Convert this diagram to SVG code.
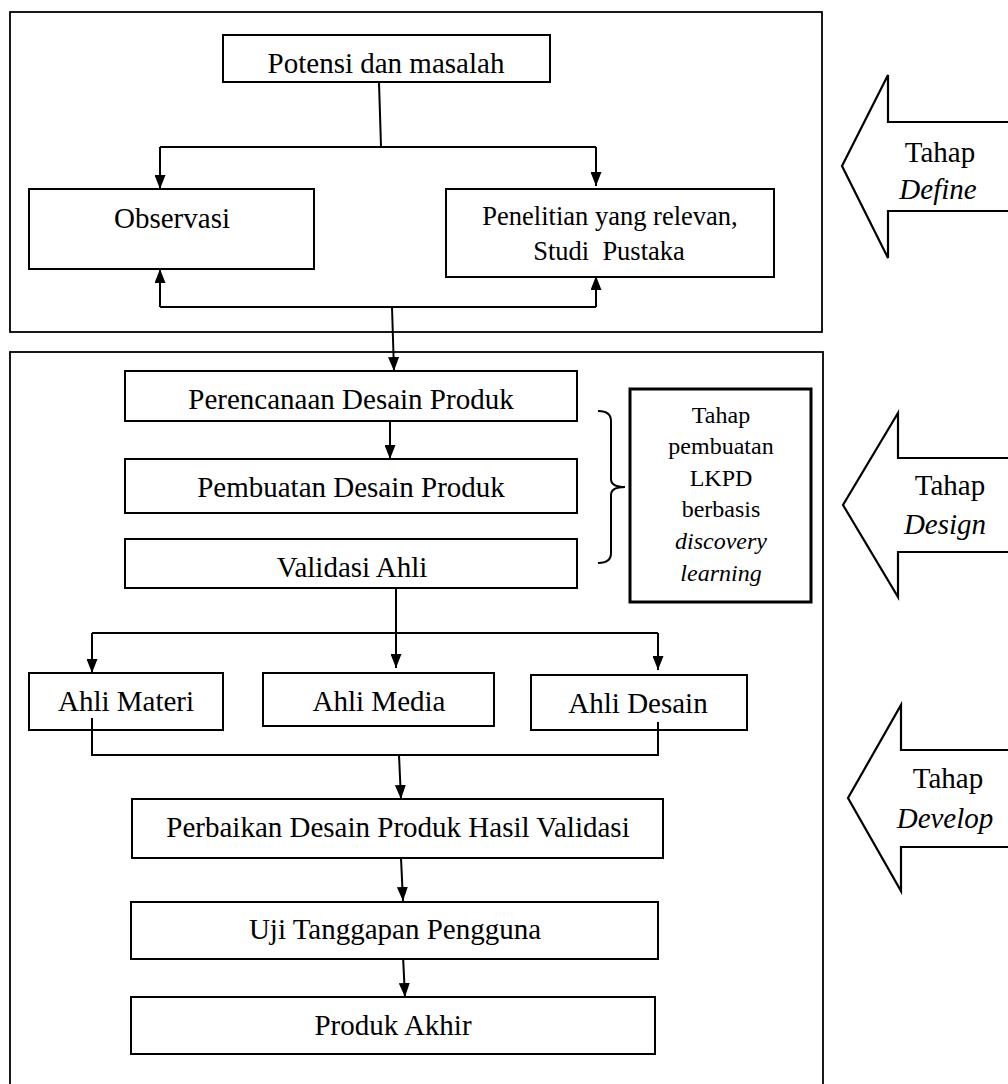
<svg xmlns="http://www.w3.org/2000/svg" width="1008" height="1084" viewBox="0 0 1008 1084">
<style>
.box{fill:#fff;stroke:#000;stroke-width:2}
.frame{fill:none;stroke:#000;stroke-width:1.8}
.t{font-family:"Liberation Serif","Times New Roman",serif;font-size:29px;fill:#000;text-anchor:middle}
.s{font-size:26.5px}
.r{font-size:24px}
.i{font-style:italic}
.ln{fill:none;stroke:#000;stroke-width:2}
.arr{fill:#fff;stroke:#000;stroke-width:2.2;stroke-linejoin:miter}
</style>
<defs>
<marker id="ah" viewBox="0 0 14 11" refX="14" refY="5.5" markerWidth="14" markerHeight="11" orient="auto" markerUnits="userSpaceOnUse">
<path d="M0,0 L14,5.5 L0,11 z" fill="#000"/>
</marker>
</defs>
<g id="frames">
<rect class="frame" x="10" y="12" width="812" height="320"/>
<rect class="frame" x="10" y="352" width="813" height="760"/>
</g>
<g id="connectors">
<path class="ln" d="M379,82 L381,147"/>
<path class="ln" d="M160,147 L596,147"/>
<path class="ln" d="M160,147 L160,189" marker-end="url(#ah)"/>
<path class="ln" d="M596,147 L596,186" marker-end="url(#ah)"/>
<path class="ln" d="M160,307 L596,307"/>
<path class="ln" d="M160,307 L160,269" marker-end="url(#ah)"/>
<path class="ln" d="M596,307 L596,276" marker-end="url(#ah)"/>
<path class="ln" d="M392,307 L394,371" marker-end="url(#ah)"/>
<path class="ln" d="M390,421 L390,459" marker-end="url(#ah)"/>
<path class="ln" d="M396,588 L396,668" marker-end="url(#ah)"/>
<path class="ln" d="M92,633 L658,633"/>
<path class="ln" d="M92,633 L92,673" marker-end="url(#ah)"/>
<path class="ln" d="M658,633 L658,670" marker-end="url(#ah)"/>
<path class="ln" d="M92,718 L92,755 L658,755 L658,722"/>
<path class="ln" d="M399,755 L401,799" marker-end="url(#ah)"/>
<path class="ln" d="M401,858 L403,901" marker-end="url(#ah)"/>
<path class="ln" d="M403,956 L405,997" marker-end="url(#ah)"/>
<path class="ln" d="M598,411 Q611,411 611,421 L611,479 Q611,487 625,487 Q611,487 611,495 L611,553 Q611,563 598,563"/>
</g>
<g id="potensi">
<rect class="box" x="223" y="35" width="327" height="47"/>
<text class="t" x="386" y="73">Potensi dan masalah</text>
</g>
<g id="observasi">
<rect class="box" x="29" y="189" width="285" height="80"/>
<text class="t" x="172" y="228">Observasi</text>
</g>
<g id="penelitian">
<rect class="box" x="446" y="189" width="328" height="88"/>
<text class="t s" x="610" y="225">Penelitian yang relevan,</text>
<text class="t s" x="609" y="260">Studi&#160; Pustaka</text>
</g>
<g id="perencanaan">
<rect class="box" x="125" y="371" width="452" height="50"/>
<text class="t" x="351" y="409">Perencanaan Desain Produk</text>
</g>
<g id="pembuatan">
<rect class="box" x="125" y="459" width="452" height="54"/>
<text class="t" x="351" y="497">Pembuatan Desain Produk</text>
</g>
<g id="validasi">
<rect class="box" x="125" y="539" width="452" height="49"/>
<text class="t" x="352" y="577">Validasi Ahli</text>
</g>
<g id="tahap-pembuatan">
<rect class="box" x="630" y="389" width="181" height="213" style="stroke-width:3"/>
<text class="t r" x="721" y="423">Tahap</text>
<text class="t r" x="721" y="454">pembuatan</text>
<text class="t r" x="721" y="486">LKPD</text>
<text class="t r" x="721" y="517">berbasis</text>
<text class="t r i" x="721" y="549">discovery</text>
<text class="t r i" x="721" y="581">learning</text>
</g>
<g id="ahli-materi">
<rect class="box" x="29" y="673" width="194" height="57"/>
<text class="t" x="126" y="711">Ahli Materi</text>
</g>
<g id="ahli-media">
<rect class="box" x="263" y="673" width="231" height="53"/>
<text class="t" x="379" y="711">Ahli Media</text>
</g>
<g id="ahli-desain">
<rect class="box" x="531" y="675" width="216" height="55"/>
<text class="t" x="638" y="713">Ahli Desain</text>
</g>
<path class="ln" d="M92,718 L92,730"/>
<path class="ln" d="M658,722 L658,730"/>
<g id="perbaikan">
<rect class="box" x="132" y="799" width="531" height="59"/>
<text class="t" x="398" y="837">Perbaikan Desain Produk Hasil Validasi</text>
</g>
<g id="uji">
<rect class="box" x="131" y="902" width="527" height="57"/>
<text class="t" x="395" y="939">Uji Tanggapan Pengguna</text>
</g>
<g id="produk-akhir">
<rect class="box" x="131" y="997" width="524" height="57"/>
<text class="t" x="393" y="1035">Produk Akhir</text>
</g>
<g id="define">
<polygon class="arr" points="1012,122 888,122 888,75 842,166 888,258 888,211 1012,211"/>
<text class="t" x="940" y="162">Tahap</text>
<text class="t i" x="938" y="199">Define</text>
</g>
<g id="design">
<polygon class="arr" points="1012,458 898,458 898,413 843,505 898,597 898,552 1012,552"/>
<text class="t" x="950" y="495">Tahap</text>
<text class="t i" x="945" y="534">Design</text>
</g>
<g id="develop">
<polygon class="arr" points="1012,750 901,750 901,705 848,798 901,891 901,847 1012,847"/>
<text class="t" x="948" y="788">Tahap</text>
<text class="t i" x="945" y="828">Develop</text>
</g>
</svg>
